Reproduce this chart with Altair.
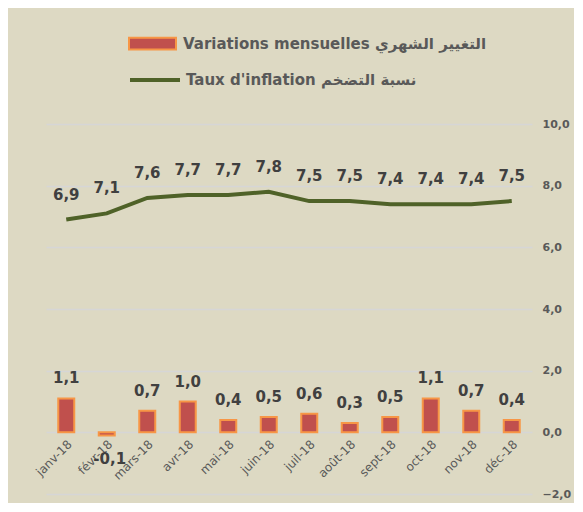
import altair as alt
import pandas as pd

months = ["janv-18", "févr-18", "mars-18", "avr-18", "mai-18", "juin-18",
          "juil-18", "août-18", "sept-18", "oct-18", "nov-18", "déc-18"]
inflation = [6.9, 7.1, 7.6, 7.7, 7.7, 7.8, 7.5, 7.5, 7.4, 7.4, 7.4, 7.5]
variation = [1.1, -0.1, 0.7, 1.0, 0.4, 0.5, 0.6, 0.3, 0.5, 1.1, 0.7, 0.4]
y_ticks = [-2, 0, 2, 4, 6, 8, 10]

label_bar = "Variations mensuelles التغيير الشهري"
label_line = "Taux d'inflation نسبة التضخم"

df = pd.DataFrame({"mois": months, "inflation": inflation, "variation": variation})
df["s1"] = label_bar
df["s2"] = label_line
df["lab_inf"] = [f"{v:.1f}".replace(".", ",") for v in inflation]
df["lab_var"] = [f"{v:.1f}".replace(".", ",") for v in variation]

W, H = 486, 370
FONT = "DejaVu Sans"
yscale = alt.Scale(domain=[-2, 10], nice=False, zero=False)

x = alt.X("mois:N", sort=months, title=None,
          scale=alt.Scale(paddingInner=0, paddingOuter=0),
          axis=alt.Axis(offset=-H * 2 / 12, labelAngle=-45, labelAlign="right",
                        labelBaseline="top", domain=False, ticks=False,
                        labelPadding=6, labelFont=FONT, labelFontSize=12,
                        labelColor="#595959"))

base = alt.Chart(df)

bars = base.mark_bar(size=16, stroke="#F79646", strokeWidth=2).encode(
    x=x,
    y=alt.Y("variation:Q", scale=yscale, title=None,
            axis=alt.Axis(orient="right", values=y_ticks, grid=True,
                          gridColor="#D6D6D6", gridWidth=1.5, domain=False, ticks=False,
                          labelPadding=10, labelFont=FONT, labelFontSize=11,
                          labelFontWeight="bold", labelColor="#595959",
                          labelExpr="replace(format(datum.value, '.1f'), '.', ',')")),
    fill=alt.Fill("s1:N", scale=alt.Scale(range=["#C0504D"]),
                  legend=alt.Legend(title=None, orient="none", legendX=82, legendY=-105,
                                    symbolType="M-1,-0.25H1V0.25H-1Z", symbolSize=2209,
                                    symbolStrokeColor="#F79646", symbolStrokeWidth=2,
                                    labelFont=FONT, labelFontSize=15, labelFontWeight="bold",
                                    labelColor="#595959", labelOffset=6, labelLimit=400)),
)

line = base.mark_line(strokeWidth=4).encode(
    x=x,
    y=alt.Y("inflation:Q", scale=yscale),
    stroke=alt.Stroke("s2:N", scale=alt.Scale(range=["#4F6228"]),
                      legend=alt.Legend(title=None, orient="none", legendX=82, legendY=-71,
                                        symbolType="stroke", symbolSize=2500,
                                        symbolStrokeWidth=4,
                                        labelFont=FONT, labelFontSize=15, labelFontWeight="bold",
                                        labelColor="#595959", labelOffset=4, labelLimit=400)),
)

txt = dict(font=FONT, fontSize=15, fontWeight="bold", color="#404040", baseline="middle")

line_lab = base.mark_text(dy=-25, **txt).encode(
    x=x, y=alt.Y("inflation:Q", scale=yscale), text="lab_inf:N")

bar_lab_pos = base.transform_filter("datum.variation >= 0").mark_text(dy=-20, **txt).encode(
    x=x, y=alt.Y("variation:Q", scale=yscale), text="lab_var:N")
bar_lab_neg = base.transform_filter("datum.variation < 0").mark_text(dy=24, dx=3, **txt).encode(
    x=x, y=alt.Y("variation:Q", scale=yscale), text="lab_var:N")

chart = alt.layer(bars, line, line_lab, bar_lab_pos, bar_lab_neg).properties(
    width=W, height=H,
    autosize=alt.AutoSizeParams(type="none"),
    padding={"left": 38, "top": 116, "right": 42, "bottom": 9},
    background="#DDD9C3",
).configure_view(stroke=None)

chart.save("out.html", embed_options={"renderer": "svg", "actions": False})
